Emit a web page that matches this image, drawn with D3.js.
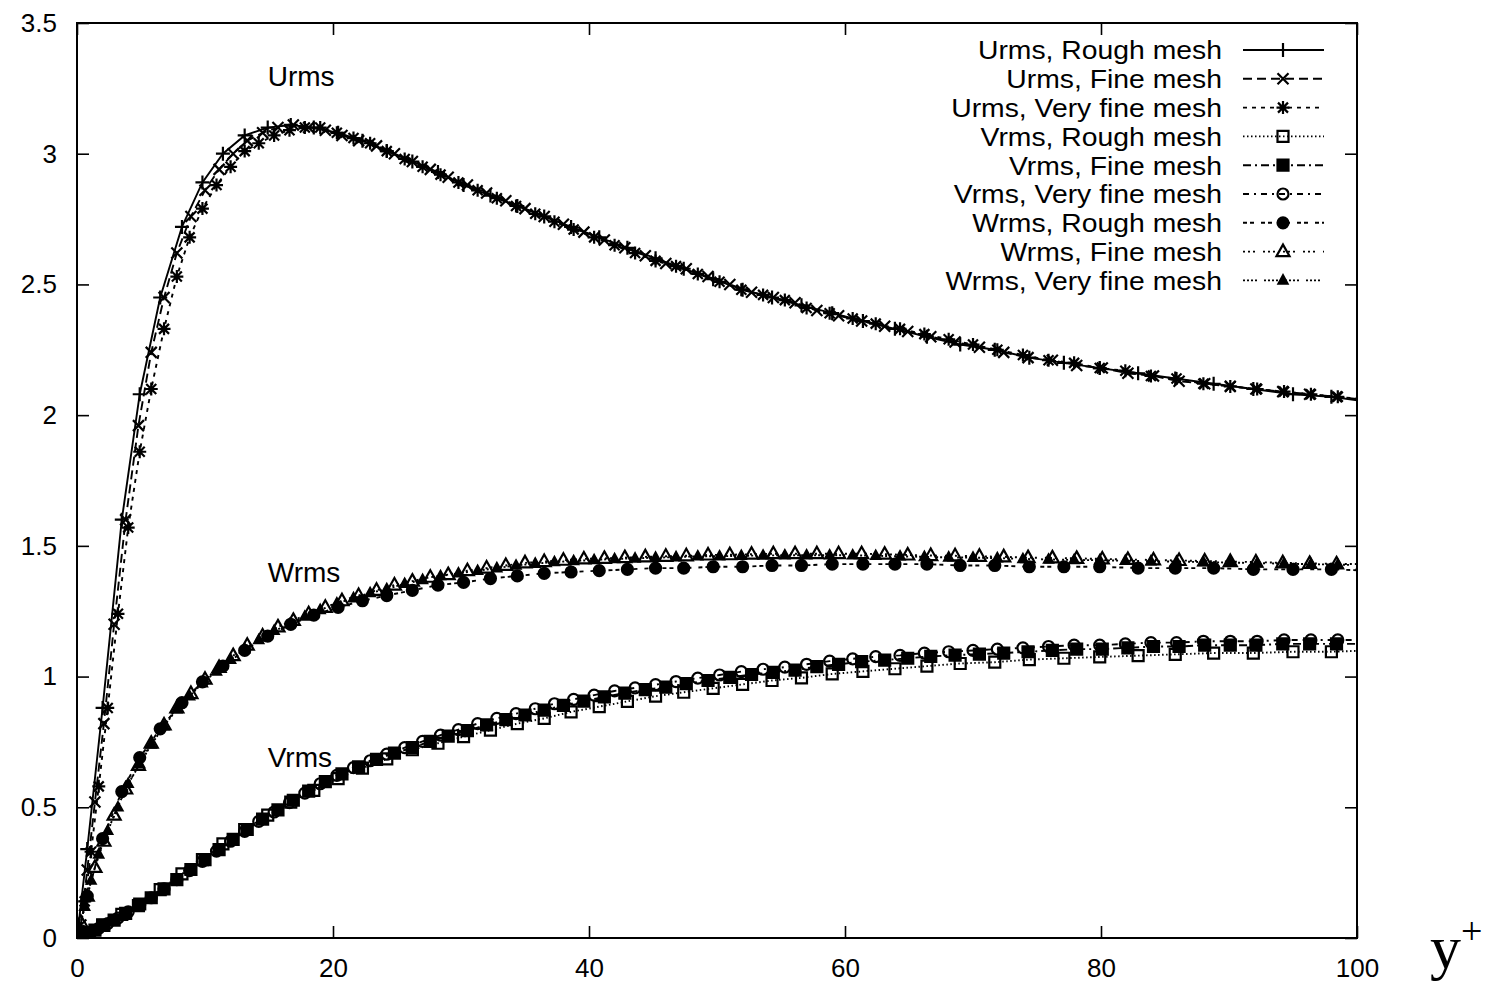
<!DOCTYPE html>
<html>
<head>
<meta charset="utf-8">
<script src="https://cdn.jsdelivr.net/npm/d3@7"></script>
<style>
body { margin: 0; background: #fff; }
text { fill: #000; }
</style>
</head>
<body>
<svg id="canvas"></svg>
<script>
// wall-normal grid points (y+) of each mesh
let roughY = [0, 0.8, 2.0, 3.5, 4.9, 6.5, 8.2, 9.8, 11.4, 13.1, 14.9, 16.7, 18.5, 20.4, 22.3, 24.2, 26.2, 28.2, 30.2, 32.3, 34.4, 36.5, 38.6, 40.8, 43.0, 45.2, 47.4, 49.7, 52.0, 54.3, 56.6, 59.0, 61.4, 63.9, 66.4, 69.0, 71.7, 74.4, 77.1, 79.9, 82.9, 85.8, 88.8, 91.9, 95.0, 98.0, 101.0]
let fineY = [0, 0.3, 0.8, 1.4, 2.1, 2.9, 3.8, 4.8, 5.8, 6.8,
  7.8, 8.9, 10.0, 11.1, 12.2, 13.3, 14.5, 15.7, 16.9, 18.1,
  19.4, 20.7, 22.0, 23.4, 24.8, 26.2, 27.6, 29.0, 30.5, 32.0,
  33.5, 35.0, 36.5, 38.0, 39.6, 41.2, 42.8, 44.4, 46.0, 47.6,
  49.3, 51.0, 52.7, 54.4, 56.1, 57.8, 59.5, 61.3, 63.1, 64.9,
  66.7, 68.6, 70.5, 72.4, 74.3, 76.2, 78.1, 80.1, 82.1, 84.1,
  86.1, 88.1, 90.1, 92.1, 94.2, 96.3, 98.4, 100.5]
let veryFineY = [0, 0.2, 0.6, 1.1, 1.7, 2.4, 3.2, 4.0, 4.9, 5.8,
  6.8, 7.8, 8.8, 9.8, 10.9, 12.0, 13.1, 14.2, 15.4, 16.6,
  17.8, 19.0, 20.3, 21.6, 22.9, 24.2, 25.6, 27.0, 28.4, 29.8,
  31.3, 32.8, 34.3, 35.8, 37.3, 38.8, 40.4, 42.0, 43.6, 45.2,
  46.8, 48.5, 50.2, 51.9, 53.6, 55.3, 57.0, 58.8, 60.6, 62.4,
  64.3, 66.2, 68.1, 70.0, 71.9, 73.9, 75.9, 77.9, 79.9, 81.9,
  83.9, 85.9, 88.0, 90.1, 92.2, 94.3, 96.4, 98.5, 100.6]

// Urms
let uRough = [0, 0.34, 0.88, 1.60, 2.08, 2.45, 2.72, 2.89, 3.00, 3.07, 3.10, 3.11, 3.10, 3.08, 3.05, 3.01, 2.97, 2.93, 2.88, 2.84, 2.80, 2.76, 2.72, 2.68, 2.64, 2.60, 2.56, 2.52, 2.48, 2.45, 2.42, 2.39, 2.36, 2.33, 2.30, 2.27, 2.25, 2.22, 2.20, 2.18, 2.16, 2.14, 2.12, 2.10, 2.08, 2.07, 2.05]
let uFine = [0, 0.05, 0.26, 0.52, 0.82, 1.20, 1.60, 1.96, 2.24, 2.45,
  2.62, 2.76, 2.86, 2.94, 3.00, 3.05, 3.08, 3.10, 3.11, 3.10,
  3.09, 3.07, 3.05, 3.03, 3.00, 2.97, 2.94, 2.91, 2.88, 2.85,
  2.82, 2.79, 2.76, 2.73, 2.70, 2.67, 2.64, 2.61, 2.58, 2.56,
  2.53, 2.50, 2.47, 2.45, 2.43, 2.40, 2.38, 2.36, 2.34, 2.32,
  2.30, 2.28, 2.26, 2.24, 2.22, 2.21, 2.19, 2.18, 2.16, 2.15,
  2.13, 2.12, 2.11, 2.10, 2.09, 2.08, 2.07, 2.06]
let uVeryFine = [0, 0.03, 0.14, 0.33, 0.58, 0.88, 1.24, 1.57, 1.86, 2.10,
  2.33, 2.53, 2.68, 2.79, 2.88, 2.95, 3.01, 3.04, 3.07, 3.09,
  3.10, 3.10, 3.08, 3.06, 3.04, 3.01, 2.98, 2.95, 2.92, 2.89,
  2.86, 2.83, 2.80, 2.77, 2.74, 2.71, 2.68, 2.65, 2.62, 2.59,
  2.57, 2.54, 2.51, 2.48, 2.46, 2.44, 2.41, 2.39, 2.37, 2.35,
  2.33, 2.31, 2.29, 2.27, 2.25, 2.23, 2.21, 2.20, 2.18, 2.17,
  2.15, 2.14, 2.12, 2.11, 2.10, 2.09, 2.08, 2.07, 2.06]

// Vrms
let vRough = [0, 0.02, 0.05, 0.09, 0.13, 0.185, 0.245, 0.30, 0.36, 0.415, 0.47, 0.52, 0.565, 0.61, 0.65, 0.685, 0.72, 0.745, 0.77, 0.795, 0.82, 0.84, 0.865, 0.885, 0.905, 0.925, 0.94, 0.955, 0.97, 0.985, 0.995, 1.01, 1.02, 1.03, 1.04, 1.05, 1.055, 1.065, 1.07, 1.075, 1.08, 1.085, 1.09, 1.09, 1.095, 1.095, 1.10]
let vFine = [0, 0.005, 0.015, 0.03, 0.048, 0.068, 0.094, 0.124, 0.154, 0.188,
  0.223, 0.262, 0.30, 0.338, 0.377, 0.415, 0.455, 0.49, 0.527, 0.562,
  0.598, 0.628, 0.655, 0.683, 0.707, 0.728, 0.752, 0.772, 0.793, 0.815,
  0.835, 0.853, 0.872, 0.89, 0.906, 0.922, 0.937, 0.95, 0.96, 0.973,
  0.985, 0.997, 1.008, 1.016, 1.025, 1.038, 1.047, 1.057, 1.063, 1.07,
  1.077, 1.082, 1.086, 1.09, 1.095, 1.10, 1.105, 1.105, 1.11, 1.115,
  1.115, 1.12, 1.12, 1.12, 1.125, 1.125, 1.125, 1.125]
let vVeryFine = [0, 0.004, 0.012, 0.022, 0.037, 0.055, 0.076, 0.10, 0.127, 0.154,
  0.188, 0.223, 0.258, 0.293, 0.332, 0.37, 0.408, 0.446, 0.482, 0.518,
  0.554, 0.59, 0.622, 0.652, 0.678, 0.703, 0.728, 0.752, 0.776, 0.797,
  0.82, 0.84, 0.858, 0.877, 0.896, 0.913, 0.929, 0.945, 0.957, 0.969,
  0.981, 0.994, 1.006, 1.019, 1.028, 1.036, 1.047, 1.059, 1.068, 1.076,
  1.081, 1.09, 1.095, 1.10, 1.105, 1.11, 1.115, 1.12, 1.12, 1.125,
  1.13, 1.13, 1.135, 1.135, 1.135, 1.14, 1.14, 1.14, 1.14]

// Wrms
let wRough = [0, 0.16, 0.38, 0.56, 0.69, 0.80, 0.90, 0.98, 1.04, 1.10, 1.155, 1.20, 1.235, 1.265, 1.29, 1.31, 1.33, 1.35, 1.36, 1.375, 1.385, 1.395, 1.40, 1.405, 1.41, 1.415, 1.415, 1.42, 1.42, 1.425, 1.425, 1.43, 1.43, 1.43, 1.43, 1.425, 1.425, 1.42, 1.42, 1.42, 1.415, 1.415, 1.415, 1.41, 1.41, 1.41, 1.405]
let wFine = [0, 0.06, 0.16, 0.27, 0.37, 0.47, 0.57, 0.66, 0.745, 0.815,
  0.88, 0.935, 0.99, 1.035, 1.08, 1.12, 1.155, 1.19, 1.215, 1.24,
  1.265, 1.29, 1.31, 1.33, 1.35, 1.365, 1.38, 1.39, 1.405, 1.415,
  1.425, 1.435, 1.44, 1.445, 1.45, 1.452, 1.455, 1.458, 1.46, 1.462,
  1.465, 1.466, 1.468, 1.47, 1.47, 1.47, 1.47, 1.47, 1.468, 1.465,
  1.463, 1.462, 1.46, 1.458, 1.455, 1.454, 1.452, 1.45, 1.448, 1.446,
  1.444, 1.442, 1.44, 1.438, 1.435, 1.433, 1.431, 1.43]
let wVeryFine = [0, 0.04, 0.12, 0.22, 0.32, 0.41, 0.50, 0.59, 0.665, 0.74,
  0.81, 0.875, 0.925, 0.975, 1.02, 1.065, 1.105, 1.14, 1.175, 1.20,
  1.23, 1.255, 1.28, 1.30, 1.32, 1.335, 1.355, 1.37, 1.385, 1.395,
  1.405, 1.415, 1.425, 1.432, 1.438, 1.442, 1.446, 1.45, 1.452, 1.455,
  1.457, 1.46, 1.46, 1.462, 1.463, 1.464, 1.464, 1.464, 1.464, 1.462,
  1.46, 1.458, 1.456, 1.455, 1.453, 1.45, 1.448, 1.446, 1.445, 1.443,
  1.441, 1.44, 1.438, 1.436, 1.434, 1.432, 1.43, 1.428, 1.426]

let legendLabels = ['Urms, Rough mesh', 'Urms, Fine mesh', 'Urms, Very fine mesh',
  'Vrms, Rough mesh', 'Vrms, Fine mesh', 'Vrms, Very fine mesh',
  'Wrms, Rough mesh', 'Wrms, Fine mesh', 'Wrms, Very fine mesh']
let xTicks = [0, 20, 40, 60, 80, 100]
let yTicks = [0, 0.5, 1, 1.5, 2, 2.5, 3, 3.5]
let curveNames = ['Urms', 'Wrms', 'Vrms']
let curveNameAt = [3.26, 1.362, 0.654]

let width = 1492
let height = 985
let mLeft = 77, mRight = 1357, mTop = 23, mBottom = 938
let sans = '"Liberation Sans", Arial, sans-serif'
let serif = '"Liberation Serif", "Times New Roman", serif'

let canvas = d3.select('#canvas').attr('width', width).attr('height', height)

let xScale = d3.scaleLinear().domain([0, 100]).range([mLeft, mRight])
let yScale = d3.scaleLinear().domain([0, 3.5]).range([mBottom, mTop])

// gnuplot line types 1..9 and point types 1..9
let dashes = [null, '9,5', '4,5', '1.5,2.5', '8,4,2,4', '6,5,2,5', '4,3,4,7', '2,3,2,3,2,8', '2,2,2,2,2,2,2,7']
let marks = ['plus', 'cross', 'star', 'square', 'squareFill', 'circle', 'circleFill', 'triangle', 'triangleFill']

let series = [
  [roughY, uRough], [fineY, uFine], [veryFineY, uVeryFine],
  [roughY, vRough], [fineY, vFine], [veryFineY, vVeryFine],
  [roughY, wRough], [fineY, wFine], [veryFineY, wVeryFine]
].map((s, i) => ({
  name: legendLabels[i],
  points: s[0].map((x, j) => [x, s[1][j]]),
  dash: dashes[i],
  mark: marks[i]
}))

let markPath = (type) => {
  if (type == 'plus') return 'M-7,0H7M0,-7V7'
  if (type == 'cross') return 'M-5.5,-5.5L5.5,5.5M-5.5,5.5L5.5,-5.5'
  if (type == 'star') return 'M-6.5,0H6.5M0,-6.5V6.5M-5,-5L5,5M-5,5L5,-5'
  if (type == 'square' || type == 'squareFill') return 'M-5.5,-5.5H5.5V5.5H-5.5Z'
  if (type == 'circle' || type == 'circleFill') return 'M5.5,0A5.5,5.5 0 1,1 -5.5,0A5.5,5.5 0 1,1 5.5,0Z'
  if (type == 'triangle') return 'M0,-7L6.5,4.5L-6.5,4.5Z'
  return 'M0,-5L4.5,3.2L-4.5,3.2Z'
}
let isFilled = (type) => type.indexOf('Fill') > 0

let drawMark = (g, type, x, y) => {
  g.append('path')
    .attr('d', markPath(type))
    .attr('transform', `translate(${x},${y})`)
    .attr('fill', isFilled(type) ? '#000' : 'none')
    .attr('stroke', '#000')
    .attr('stroke-width', 2.2)
}

canvas.append('defs').append('clipPath').attr('id', 'plotclip')
  .append('rect')
  .attr('x', mLeft).attr('y', mTop)
  .attr('width', mRight - mLeft).attr('height', mBottom - mTop)

let drawAxes = () => {
  let axisLeft = d3.axisLeft(yScale).tickValues(yTicks).tickSizeInner(-12).tickSizeOuter(0).tickPadding(20)
    .tickFormat(d3.format('~g'))
  let gl = canvas.append('g').attr('transform', `translate(${mLeft},0)`).call(axisLeft)
  let axisRight = d3.axisRight(yScale).tickValues(yTicks).tickSizeInner(-12).tickSizeOuter(0).tickFormat('')
  let gr = canvas.append('g').attr('transform', `translate(${mRight},0)`).call(axisRight)
  let axisBottom = d3.axisBottom(xScale).tickValues(xTicks).tickSizeInner(-12).tickSizeOuter(0).tickPadding(21)
  let gb = canvas.append('g').attr('transform', `translate(0,${mBottom})`).call(axisBottom)
  let axisTop = d3.axisTop(xScale).tickValues(xTicks).tickSizeInner(-12).tickSizeOuter(0).tickFormat('')
  let gt = canvas.append('g').attr('transform', `translate(0,${mTop})`).call(axisTop)

  ;[gl, gr, gb, gt].forEach(g => {
    g.select('.domain').remove()
    g.selectAll('line').attr('stroke', '#000').attr('stroke-width', 1.6)
    g.selectAll('text').attr('font-size', 26).style('font-family', sans)
  })

  canvas.append('rect')
    .attr('x', mLeft).attr('y', mTop)
    .attr('width', mRight - mLeft).attr('height', mBottom - mTop)
    .attr('fill', 'none').attr('stroke', '#000').attr('stroke-width', 2)
}

let drawSeries = () => {
  let line = d3.line().x(d => xScale(d[0])).y(d => yScale(d[1]))
  let plot = canvas.append('g').attr('clip-path', 'url(#plotclip)')
  series.forEach(s => {
    plot.append('path')
      .attr('d', line(s.points))
      .attr('fill', 'none')
      .attr('stroke', '#000')
      .attr('stroke-width', 1.9)
      .attr('stroke-dasharray', s.dash)
    let g = plot.append('g')
    s.points.forEach(p => drawMark(g, s.mark, xScale(p[0]), yScale(p[1])))
  })
}

let drawLegend = () => {
  let legend = canvas.append('g').attr('id', 'legend')
  series.forEach((s, i) => {
    let cy = 50 + i * 28.8
    legend.append('text')
      .attr('transform', `translate(1222,${cy}) scale(1.09,1)`)
      .attr('dy', '0.36em')
      .attr('text-anchor', 'end')
      .attr('font-size', 26)
      .style('font-family', sans)
      .text(s.name)
    legend.append('line')
      .attr('x1', 1243).attr('x2', 1324).attr('y1', cy).attr('y2', cy)
      .attr('stroke', '#000').attr('stroke-width', 1.9)
      .attr('stroke-dasharray', s.dash)
    drawMark(legend, s.mark, 1283, cy)
  })
}

let drawLabels = () => {
  curveNames.forEach((n, i) => {
    canvas.append('text')
      .attr('x', xScale(14.9))
      .attr('y', yScale(curveNameAt[i]))
      .attr('font-size', 28)
      .style('font-family', sans)
      .text(n)
  })
  let yl = canvas.append('text')
    .attr('x', 1430).attr('y', 968)
    .style('font-family', serif)
    .attr('font-size', 62)
    .text('y')
  yl.append('tspan')
    .attr('font-size', 38)
    .attr('dy', -24)
    .text('+')
}

drawSeries()
drawAxes()
drawLegend()
drawLabels()
</script>
</body>
</html>
